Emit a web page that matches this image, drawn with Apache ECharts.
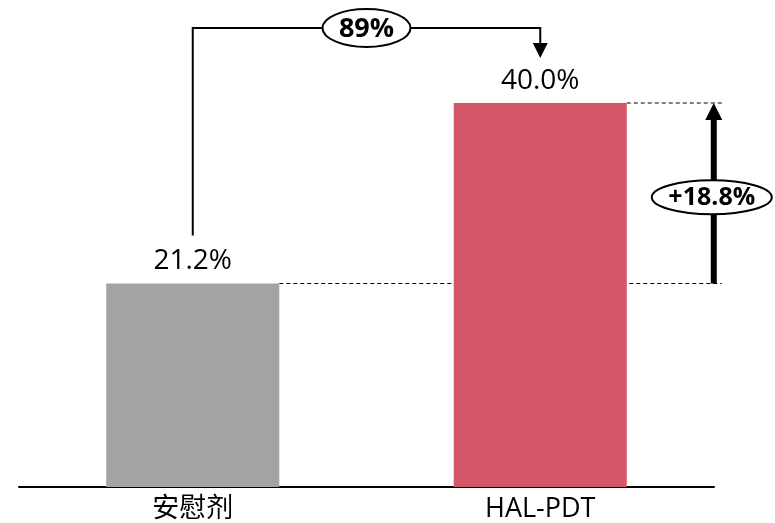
<!DOCTYPE html>
<html>
<head>
<meta charset="utf-8">
<script src="https://cdn.jsdelivr.net/npm/echarts@6/dist/echarts.min.js"></script>
<style>
  html, body { margin: 0; padding: 0; background: #fff; }
  #chart { width: 775px; height: 523px; }
</style>
</head>
<body>
<div id="chart"></div>
<script>
const categories = ['安慰剂', 'HAL-PDT'];
const values = [21.2, 40.0];
const barColors = ['#a3a3a3', '#d45768'];
const relChange = '89%';
const absChange = '+18.8%';

const FONT = '"Open Sans", "Noto Sans", "Noto Sans CJK SC", sans-serif';
const BAR_FRAC = 0.498;

const chart = echarts.init(document.getElementById('chart'));

chart.setOption({
  animation: false,
  grid: { left: 19, right: 61, top: 103, bottom: 36, containLabel: false },
  xAxis: {
    type: 'category',
    data: categories,
    axisLine: { lineStyle: { color: '#000', width: 2 } },
    axisTick: { show: false },
    axisLabel: { color: '#000', fontSize: 27, margin: 9, fontFamily: FONT }
  },
  yAxis: { type: 'value', min: 0, max: 40, show: false },
  series: [{
    type: 'bar',
    barWidth: (BAR_FRAC * 100) + '%',
    data: values.map((v, i) => ({ value: v, itemStyle: { color: barColors[i] } })),
    label: {
      show: true,
      position: 'top',
      distance: 8,
      color: '#000',
      fontSize: 28,
      fontFamily: FONT,
      formatter: p => p.value.toFixed(1) + '%'
    }
  }]
});

// annotations placed from data pixels
const p0 = chart.convertToPixel({ seriesIndex: 0 }, [0, values[0]]);
const p1 = chart.convertToPixel({ seriesIndex: 0 }, [1, values[1]]);
const halfBar = (p1[0] - p0[0]) * BAR_FRAC / 2;
const rightX = p1[0] + halfBar + 95;
const arrowX = rightX - 8;
const topY = p1[1] - 75;
const midY = (p0[1] + p1[1]) / 2 + 4;
const dashStyle = { stroke: '#000', lineWidth: 1.2, lineDash: [4, 3] };

chart.setOption({
  graphic: [
    // bracket
    { type: 'polyline', shape: { points: [[p0[0], p0[1] - 48], [p0[0], topY], [p1[0], topY], [p1[0], p1[1] - 58]] }, style: { fill: null, stroke: '#000', lineWidth: 2 } },
    { type: 'polygon', shape: { points: [[p1[0] - 7.5, p1[1] - 60], [p1[0] + 7.5, p1[1] - 60], [p1[0], p1[1] - 45]] }, style: { fill: '#000' } },
    { type: 'ellipse', shape: { cx: (p0[0] + p1[0]) / 2, cy: topY, rx: 44, ry: 19 }, style: { fill: '#fff', stroke: '#000', lineWidth: 2 } },
    { type: 'text', x: (p0[0] + p1[0]) / 2, y: topY + 1, style: { text: relChange, fontSize: 27, fontWeight: 'bold', fontFamily: FONT, fill: '#000', align: 'center', verticalAlign: 'middle' } },
    // dashed reference lines
    { type: 'line', shape: { x1: p1[0] + halfBar, y1: p1[1], x2: rightX, y2: p1[1] }, style: dashStyle },
    { type: 'line', shape: { x1: p0[0] + halfBar, y1: p0[1], x2: rightX, y2: p0[1] }, style: dashStyle },
    // difference arrow
    { type: 'line', shape: { x1: arrowX, y1: p0[1], x2: arrowX, y2: p1[1] + 14 }, style: { stroke: '#000', lineWidth: 6 } },
    { type: 'polygon', shape: { points: [[arrowX - 8.5, p1[1] + 17], [arrowX + 8.5, p1[1] + 17], [arrowX, p1[1]]] }, style: { fill: '#000' } },
    { type: 'ellipse', shape: { cx: arrowX - 2, cy: midY, rx: 60, ry: 17 }, style: { fill: '#fff', stroke: '#000', lineWidth: 2 } },
    { type: 'text', x: arrowX - 2, y: midY + 1, style: { text: absChange, fontSize: 25, fontWeight: 'bold', fontFamily: FONT, fill: '#000', align: 'center', verticalAlign: 'middle' } }
  ]
});
</script>
</body>
</html>
